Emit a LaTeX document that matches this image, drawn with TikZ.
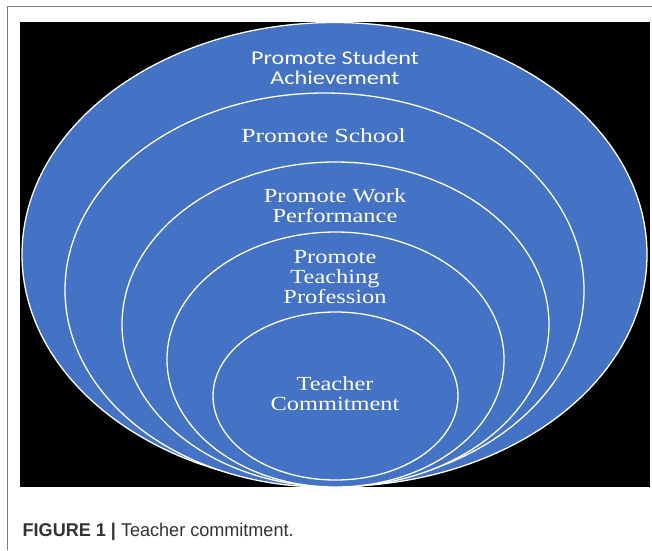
\documentclass[tikz,border=0pt]{standalone}
\usepackage{fontspec}
\setmainfont{Liberation Serif}
\newfontfamily\calibrifont{Carlito}
\newfontfamily\captionfont{Liberation Sans}
\usepackage{tikz}
\usetikzlibrary{shapes}
\usetikzlibrary{positioning}
\definecolor{ringblue}{HTML}{4472C4}
\definecolor{framegray}{HTML}{7A7A7A}
\definecolor{capgray}{HTML}{333333}
\tikzset{
    ring/.style = {ellipse, draw=white, line width=1.3pt, fill=ringblue, inner sep=0pt, outer sep=0pt},
    ringtext/.style = {align=center, text=white, inner sep=0pt, xscale=1.22, font=\fontsize{20}{20}\selectfont},
    ringtexts/.style = {align=center, text=white, inner sep=0pt, xscale=1.24, font=\calibrifont\fontsize{19.5}{20}\selectfont},
    captext/.style = {anchor=base west, inner sep=0pt, text=capgray, xscale=0.976, font=\captionfont\fontsize{18.5}{18.5}\selectfont}
}

\begin{document}
\begin{tikzpicture}[x=1pt,y=-1pt]
\useasboundingbox (0,0) rectangle (652,550);
%
\draw[framegray, line width=1.2pt] (7.5,550) -- (7.5,6.5) -- (652,6.5);
\fill[black] (20,22) rectangle (650,487);
%
\node[ring, minimum width=625pt, minimum height=464pt] at (334.5, 254.5) (achieve) {};
\node[ring, minimum width=519pt, minimum height=394pt] at (324.5, 290) (school) {};
\node[ring, minimum width=427pt, minimum height=325pt] at (335.5, 324.5) (work) {};
\node[ring, minimum width=337pt, minimum height=255pt] at (335.5, 359.5) (teaching) {};
\node[ring, minimum width=245pt, minimum height=168pt] at (335.5, 396) (commit) {};
%
\node[ringtexts] at (335, 68) (achievetext) {Promote Student\\Achievement};
\node[ringtext, xscale=1.05] at (323.5, 136) (schooltext) {Promote School};
\node[ringtext] at (335, 206) (worktext) {Promote Work\\Performance};
\node[ringtext] at (335, 277) (teachingtext) {Promote\\Teaching\\Profession};
\node[ringtext] at (335, 394) (committext) {Teacher\\Commitment};
%
\node[captext] at (22.5, 536) (caption) {\textbf{FIGURE 1 |} Teacher commitment.};
\end{tikzpicture}
\end{document}
